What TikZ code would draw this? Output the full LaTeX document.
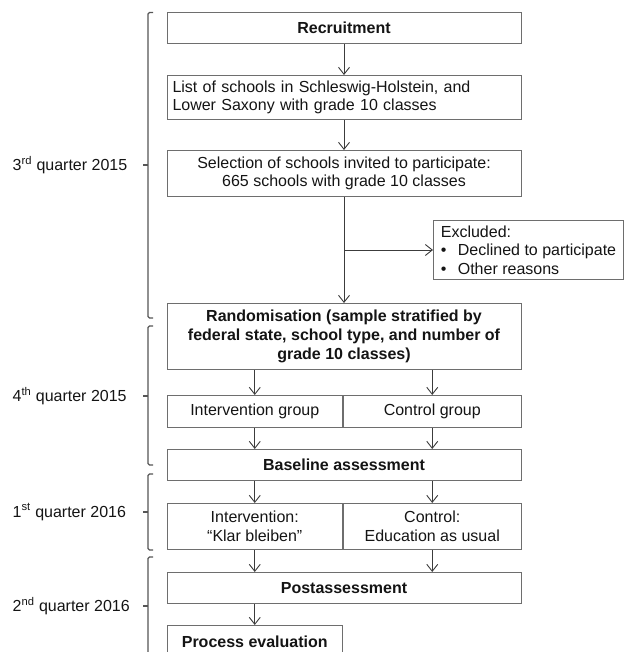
\documentclass[tikz,border=0pt]{standalone}
\usepackage{fontspec}
\setmainfont{Liberation Sans}
\usetikzlibrary{arrows.meta,positioning}
\definecolor{BoxGray}{HTML}{6E6E6E}
\definecolor{ArrowGray}{HTML}{3C3C3C}
\definecolor{BraceGray}{HTML}{555555}
\definecolor{InkBlack}{HTML}{141414}
\tikzset{
  stagebox/.style={draw=BoxGray,line width=1pt,inner sep=0pt,anchor=north west,
    align=center,text=InkBlack,font=\fontsize{16}{18.7}\selectfont},
  headbox/.style={stagebox,font=\fontsize{16}{18.7}\selectfont\bfseries},
  flowarrow/.style={draw=ArrowGray,line width=0.9pt,-{Straight Barb[length=7pt,width=11pt]}},
  phasebrace/.style={draw=BraceGray,line width=1.1pt,rounded corners=1.5pt},
  phaselabel/.style={anchor=west,inner sep=0pt,text=InkBlack,font=\fontsize{16}{18.7}\selectfont}
}

\begin{document}
\begin{tikzpicture}[x=1pt,y=-1pt]
        \useasboundingbox (0,0) rectangle (625,652);
        \clip (0,0) rectangle (625,652);
        % stages of the trial
        \node[headbox,minimum width=354pt,minimum height=30.5pt] (recruit) at (166.5,12.5) {Recruitment};
        \node[stagebox,minimum width=354pt,minimum height=44pt,text width=343pt,align=left] (schoollist) at (166.5,75)
          {List of schools in Schleswig-Holstein, and\\Lower Saxony with grade 10 classes};
        \node[stagebox,minimum width=354pt,minimum height=46pt] (selection) at (166.5,150)
          {Selection of schools invited to participate:\\665 schools with grade 10 classes};
        \node[stagebox,minimum width=190pt,minimum height=59pt,align=left] (excluded) at (433,220)
          {Excluded:\\\makebox[17pt][l]{\textbullet}Declined to participate\\\makebox[17pt][l]{\textbullet}Other reasons};
        \node[headbox,minimum width=354pt,minimum height=66pt] (random) at (166.5,303)
          {Randomisation (sample stratified by\\federal state, school type, and number of\\grade 10 classes)};
        \node[stagebox,minimum width=175.5pt,minimum height=32pt] (igroup) at (166.5,395) {Intervention group};
        \node[stagebox,minimum width=177.5pt,minimum height=32pt] (cgroup) at (343,395) {Control group};
        \node[headbox,minimum width=354pt,minimum height=31pt] (baseline) at (166.5,449) {Baseline assessment};
        \node[stagebox,minimum width=175.5pt,minimum height=46pt] (klar) at (166.5,503) {Intervention:\\“Klar bleiben”};
        \node[stagebox,minimum width=177.5pt,minimum height=46pt] (usual) at (343,503) {Control:\\Education as usual};
        \node[headbox,minimum width=354pt,minimum height=31pt] (post) at (166.5,572) {Postassessment};
        \node[headbox,minimum width=175.5pt,minimum height=33pt] (process) at (166.5,625) {Process evaluation};
        % arrows
        \draw[flowarrow] (recruit) -- (schoollist);
        \draw[flowarrow] (schoollist) -- (selection);
        \draw[flowarrow] (selection) -- (random);
        \draw[flowarrow] (selection.south |- excluded.west) -- (excluded.west);
        \foreach \grp in {igroup,cgroup} {
          \draw[flowarrow] (\grp.north |- random.south) -- (\grp.north);
          \draw[flowarrow] (\grp.south) -- (\grp.south |- baseline.north);
        }
        \foreach \grp in {klar,usual} {
          \draw[flowarrow] (\grp.north |- baseline.south) -- (\grp.north);
          \draw[flowarrow] (\grp.south) -- (\grp.south |- post.north);
        }
        \draw[flowarrow] (process.north |- post.south) -- (process.north);
        % time brackets
        \foreach \top/\bot/\mid in {12.5/318/165,326/465/396,474/550/512,557/690/606} {
          \draw[phasebrace] (153,\top) -- (148,\top) -- (148,\bot) -- (153,\bot);
          \draw[phasebrace] (148,\mid) -- (143,\mid);
        }
        \node[phaselabel] (q3) at (12.5,165) {3\textsuperscript{rd} quarter 2015};
        \node[phaselabel] (q4) at (12.5,396) {4\textsuperscript{th} quarter 2015};
        \node[phaselabel] (q1) at (12.5,512) {1\textsuperscript{st} quarter 2016};
        \node[phaselabel] (q2) at (12.5,606) {2\textsuperscript{nd} quarter 2016};
\end{tikzpicture}
\end{document}
